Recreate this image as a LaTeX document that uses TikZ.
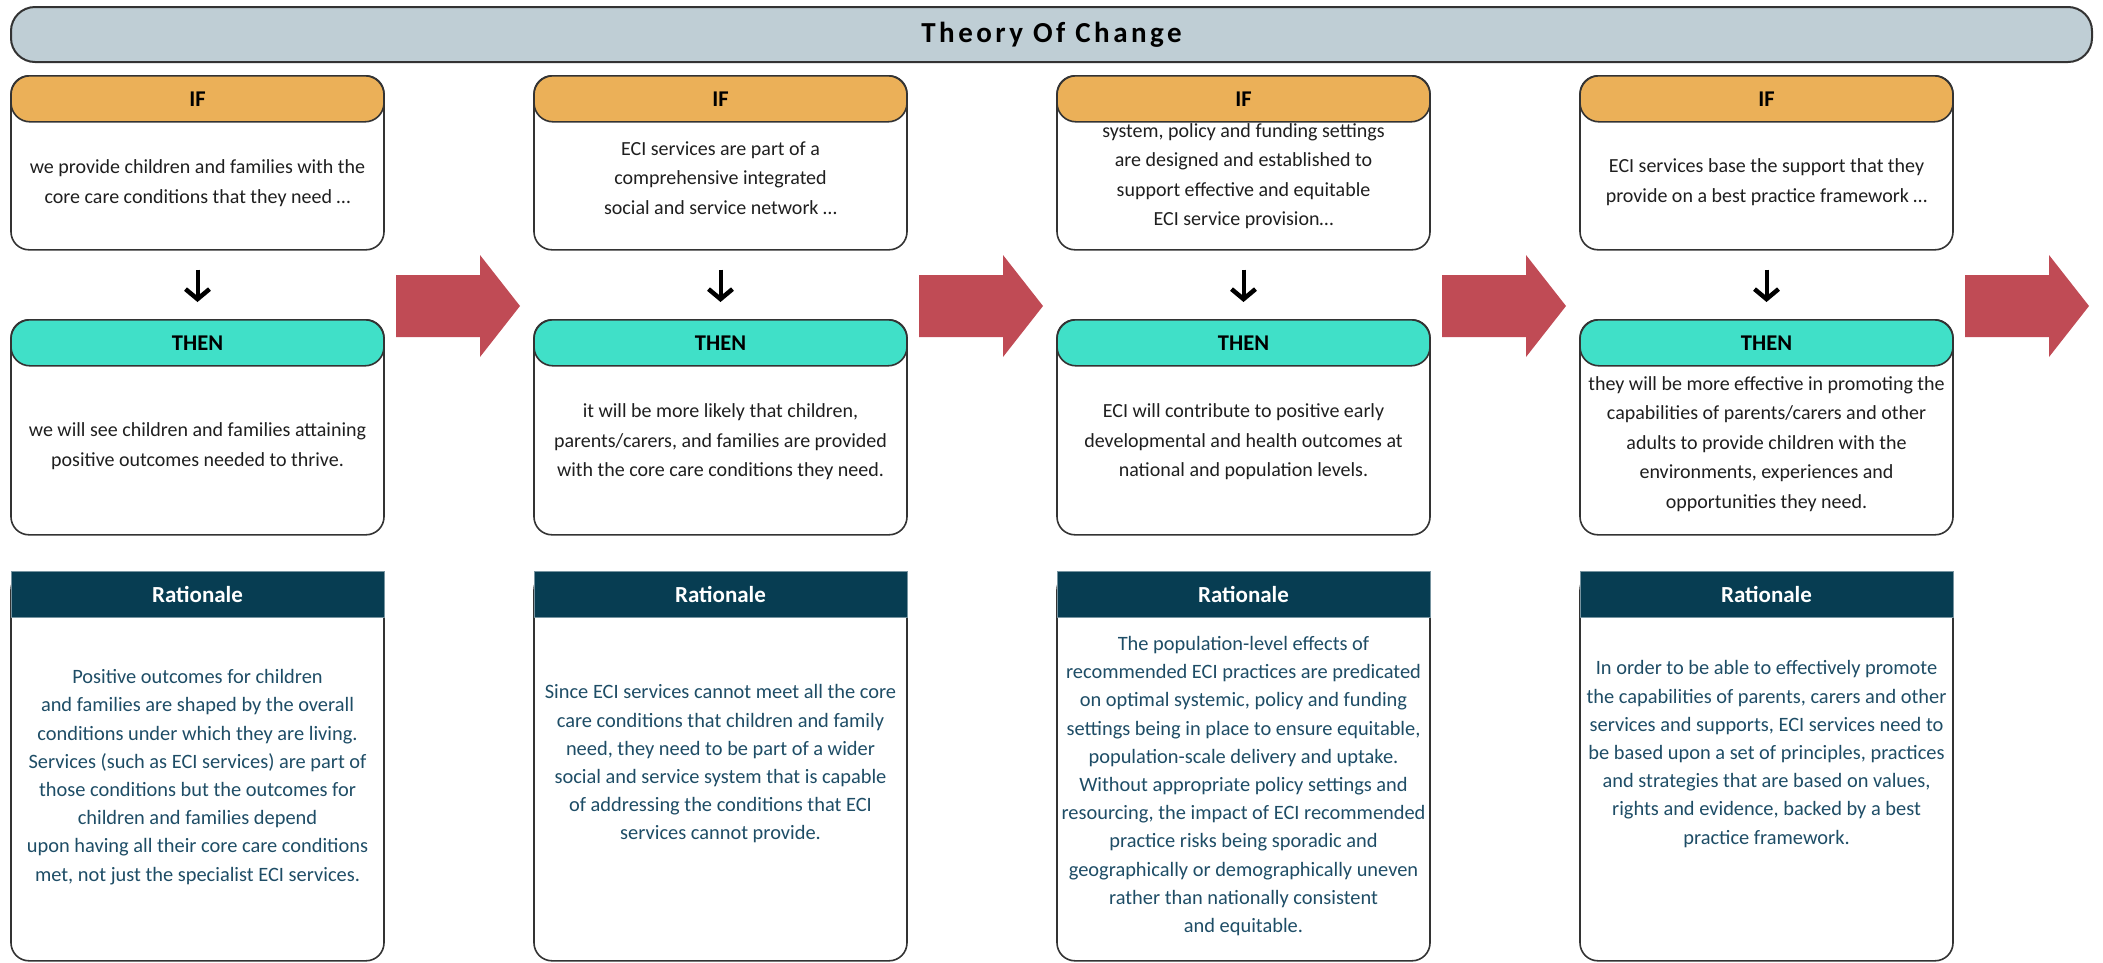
\documentclass[tikz,border=0pt]{standalone}
\usepackage{fontspec}
\setmainfont{Carlito}
\newfontfamily\titlefont[LetterSpace=12]{Carlito}
\usetikzlibrary{arrows.meta}
\definecolor{titlefill}{HTML}{BFCED5}
\definecolor{iffill}{HTML}{EBB058}
\definecolor{thenfill}{HTML}{40E0C8}
\definecolor{ratfill}{HTML}{073D52}
\definecolor{rattext}{HTML}{1E4D66}
\definecolor{redarrow}{HTML}{C04B55}
\definecolor{edge}{HTML}{333333}
\begin{document}
\begin{tikzpicture}[x=1pt,y=-1pt,
  titlebar/.style={draw=edge, line width=2pt, fill=titlefill, rounded corners=24pt,
    minimum width=2081pt, minimum height=55pt, inner sep=0pt,
    font=\fontsize{29}{32}\selectfont\titlefont\bfseries},
  bodybox/.style={draw=edge, line width=1.6pt, fill=white, rounded corners=18pt,
    minimum width=373pt, inner sep=0pt, anchor=north},
  headbox/.style={draw=edge, line width=1.6pt, rounded corners=19pt,
    minimum width=373pt, minimum height=46pt, inner sep=0pt, anchor=north,
    font=\fontsize{22.5}{25}\selectfont\bfseries},
  ifhead/.style={headbox, fill=iffill},
  thenhead/.style={headbox, fill=thenfill},
  rathead/.style={draw=ratfill!55!white, line width=0.8pt, fill=ratfill, text=white,
    minimum width=373pt, minimum height=46pt, inner sep=0pt, anchor=north,
    font=\fontsize{23}{25}\selectfont\bfseries},
  bodytext/.style={align=center, inner sep=0pt, text=black!88,
    font=\fontsize{20}{29.5}\selectfont},
  rattxt/.style={align=center, inner sep=0pt, text=rattext,
    font=\fontsize{20.4}{28.2}\selectfont},
  downarr/.style={draw=black, line width=4pt,
    -{Straight Barb[length=10pt,width=24pt,line width=4.5pt]},
    shorten <=19pt, shorten >=17pt},
  redarr/.style={fill=redarrow}
]
\useasboundingbox (0,0) rectangle (2103,962);

% title
\node[titlebar] (title) at (1051.5,34.5) {Theory Of Change};

% columns
\foreach \k in {0,1,2,3}{
  \pgfmathsetmacro{\cx}{197.5+523*\k}
  % IF
  \node[bodybox, minimum height=174pt] (ifb\k) at (\cx,75) {};
  \node[ifhead] (ifh\k) at (\cx,75) {IF};
  % THEN
  \node[bodybox, minimum height=215pt] (thb\k) at (\cx,319) {};
  \node[thenhead] (thh\k) at (\cx,319) {THEN};
  % Rationale
  \node[bodybox, minimum height=389pt] (rab\k) at (\cx,571) {};
  \node[rathead] (rah\k) at (\cx,571) {Rationale};
  % down arrow
  \draw[downarr] (ifb\k.south) -- (thh\k.north);
  % red block arrow
  \coordinate (ra\k) at (396+523*\k,275);
  \fill[redarr] (ra\k) -- ++(84,0) -- ++(0,-20) -- ++(40,51) -- ++(-40,51)
     -- ++(0,-20) -- ++(-84,0) -- cycle;
}

% IF texts
\node[bodytext] (ift0) at (197.5,183) {we provide children and families with the\\core care conditions that they need …};
\node[bodytext] (ift1) at (720.5,178) {ECI services are part of a\\comprehensive integrated\\social and service network …};
\node[bodytext] (ift2) at (1243.5,176) {system, policy and funding settings\\are designed and established to\\support effective and equitable\\ECI service provision…};
\node[bodytext] (ift3) at (1766.5,182) {ECI services base the support that they\\provide on a best practice framework …};

% THEN texts
\node[bodytext] (tht0) at (197.5,446) {we will see children and families attaining\\positive outcomes needed to thrive.};
\node[bodytext] (tht1) at (720.5,442) {it will be more likely that children,\\parents/carers, and families are provided\\with the core care conditions they need.};
\node[bodytext] (tht2) at (1243.5,442) {ECI will contribute to positive early\\developmental and health outcomes at\\national and population levels.};
\node[bodytext] (tht3) at (1766.5,444) {they will be more effective in promoting the\\capabilities of parents/carers and other\\adults to provide children with the\\environments, experiences and\\opportunities they need.};

% Rationale texts
\node[rattxt] (rat0) at (197.5,777) {Positive outcomes for children\\and families are shaped by the overall\\conditions under which they are living.\\Services (such as ECI services) are part of\\those conditions but the outcomes for\\children and families depend\\upon having all their core care conditions\\met, not just the specialist ECI services.};
\node[rattxt] (rat1) at (720.5,764) {Since ECI services cannot meet all the core\\care conditions that children and family\\need, they need to be part of a wider\\social and service system that is capable\\of addressing the conditions that ECI\\services cannot provide.};
\node[rattxt] (rat2) at (1243.5,786) {The population-level effects of\\recommended ECI practices are predicated\\on optimal systemic, policy and funding\\settings being in place to ensure equitable,\\population-scale delivery and uptake.\\Without appropriate policy settings and\\resourcing, the impact of ECI recommended\\practice risks being sporadic and\\geographically or demographically uneven\\rather than nationally consistent\\and equitable.};
\node[rattxt] (rat3) at (1766.5,754) {In order to be able to effectively promote\\the capabilities of parents, carers and other\\services and supports, ECI services need to\\be based upon a set of principles, practices\\and strategies that are based on values,\\rights and evidence, backed by a best\\practice framework.};
\end{tikzpicture}
\end{document}
